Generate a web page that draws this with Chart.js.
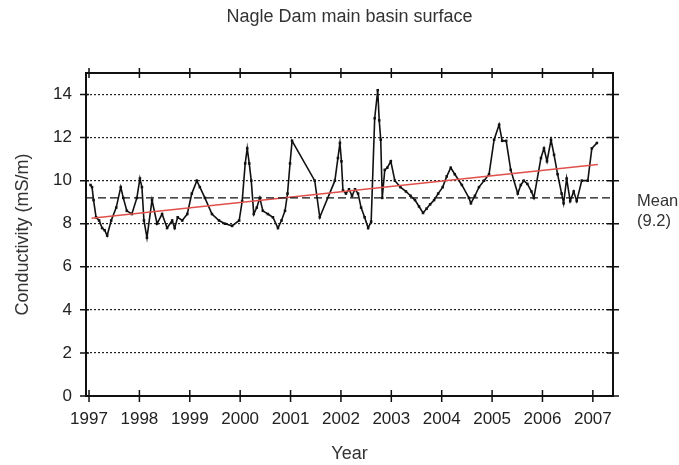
<!DOCTYPE html>
<html>
<head>
<meta charset="utf-8">
<script src="https://cdn.jsdelivr.net/npm/chart.js@4/dist/chart.umd.min.js"></script>
<style>
  html, body { margin: 0; padding: 0; background: #fff; }
</style>
</head>
<body>
<canvas id="chart" width="679" height="465"></canvas>
<script>
// conductivity (mS/m), by decimal year
const years = [
  1997.03, 1997.06, 1997.09, 1997.14, 1997.20, 1997.26, 1997.31, 1997.36, 1997.44, 1997.54,
  1997.63, 1997.68, 1997.75, 1997.85, 1997.95, 1998.01, 1998.05, 1998.09, 1998.15, 1998.25,
  1998.35, 1998.45, 1998.55, 1998.65, 1998.70, 1998.76, 1998.85, 1998.95, 1999.04, 1999.14,
  1999.20, 1999.30, 1999.44, 1999.58, 1999.70, 1999.84, 1999.98, 2000.04, 2000.10, 2000.14,
  2000.18, 2000.22, 2000.27, 2000.33, 2000.39, 2000.45, 2000.55, 2000.65, 2000.75, 2000.82,
  2000.89, 2000.94, 2000.99, 2001.03, 2001.48, 2001.58, 2001.88, 2001.94, 2001.98, 2002.01,
  2002.04, 2002.10, 2002.16, 2002.22, 2002.28, 2002.34, 2002.40, 2002.47, 2002.54, 2002.60,
  2002.67, 2002.73, 2002.76, 2002.79, 2002.82, 2002.87, 2002.92, 2002.99, 2003.07, 2003.18,
  2003.29, 2003.38, 2003.47, 2003.55, 2003.63, 2003.70, 2003.77, 2003.85, 2003.93, 2004.02,
  2004.10, 2004.18, 2004.26, 2004.40, 2004.54, 2004.58, 2004.66, 2004.74, 2004.84, 2004.94,
  2005.04, 2005.14, 2005.20, 2005.28, 2005.37, 2005.51, 2005.57, 2005.63, 2005.70, 2005.78,
  2005.83, 2005.97, 2006.03, 2006.09, 2006.17, 2006.23, 2006.30, 2006.38, 2006.42, 2006.48,
  2006.55, 2006.62, 2006.68, 2006.78, 2006.90, 2006.98, 2007.08
]
const conductivity = [
  9.8, 9.7, 9.1, 8.3, 8.15, 7.8, 7.7, 7.45, 8.15, 8.75,
  9.7, 9.2, 8.6, 8.45, 9.2, 10.1, 9.7, 8.15, 7.35, 9.1,
  8.0, 8.45, 7.8, 8.15, 7.8, 8.3, 8.15, 8.45, 9.4, 10.0,
  9.7, 9.2, 8.45, 8.15, 8.0, 7.9, 8.15, 9.05, 10.8, 11.5,
  10.8, 10.0, 8.45, 8.75, 9.2, 8.6, 8.45, 8.3, 7.8, 8.15,
  8.6, 9.4, 10.8, 11.85, 10.0, 8.3, 10.0, 11.05, 11.75, 10.9,
  9.55, 9.4, 9.6, 9.3, 9.6, 9.4, 8.75, 8.3, 7.8, 8.1,
  12.9, 14.2, 12.8, 11.9, 9.2, 10.5, 10.6, 10.9, 10.0, 9.7,
  9.5, 9.3, 9.1, 8.8, 8.5, 8.7, 8.9, 9.1, 9.4, 9.7,
  10.2, 10.6, 10.3, 9.8, 9.2, 8.95, 9.3, 9.7, 10.0, 10.3,
  11.9, 12.6, 11.85, 11.85, 10.5, 9.4, 9.8, 10.0, 9.85, 9.5,
  9.2, 11.05, 11.5, 10.9, 11.9, 11.2, 10.3, 9.4, 8.95, 10.1,
  9.05, 9.5, 9.05, 10.0, 10.0, 11.5, 11.75
]
const meanValue = 9.2
const trendYears = [1997.05, 2007.1]
const trendValues = [8.25, 10.75]
const yearTicks = [1997, 1998, 1999, 2000, 2001, 2002, 2003, 2004, 2005, 2006, 2007]
const valueTicks = [0, 2, 4, 6, 8, 10, 12, 14]
const xMin = 1996.94
const xMax = 2007.4

const font = '"Liberation Sans", Arial, sans-serif'

const framePlugin = {
  id: 'frame',
  afterDraw(chart) {
    const { ctx, chartArea: a, scales: { x, y } } = chart
    ctx.save()
    ctx.strokeStyle = '#111'
    ctx.lineWidth = 2
    ctx.strokeRect(a.left, a.top, a.right - a.left, a.bottom - a.top)
    ctx.lineWidth = 1.5
    ctx.beginPath()
    yearTicks.forEach((v) => {
      const px = x.getPixelForValue(v)
      ctx.moveTo(px, a.bottom - 6); ctx.lineTo(px, a.bottom + 6)
      ctx.moveTo(px, a.top - 5); ctx.lineTo(px, a.top + 5)
    })
    valueTicks.forEach((v) => {
      const py = y.getPixelForValue(v)
      ctx.moveTo(a.left - 6, py); ctx.lineTo(a.left + 3, py)
      ctx.moveTo(a.right - 6, py); ctx.lineTo(a.right + 6, py)
    })
    ctx.stroke()
    // mean label beside the plot
    const my = y.getPixelForValue(meanValue)
    ctx.fillStyle = '#333'
    ctx.font = '16.5px ' + font
    ctx.textBaseline = 'middle'
    ctx.fillText('Mean', a.right + 24, my + 4)
    ctx.fillText('(' + meanValue.toFixed(1) + ')', a.right + 24, my + 24)
    ctx.restore()
  }
}

new Chart(document.getElementById('chart'), {
  type: 'line',
  data: {
    datasets: [
      {
        label: 'mean',
        data: [{ x: xMin, y: meanValue }, { x: xMax, y: meanValue }],
        borderColor: '#111',
        borderWidth: 1.4,
        borderDash: [8, 4],
        pointRadius: 0
      },
      {
        label: 'trend',
        data: trendYears.map((v, i) => ({ x: v, y: trendValues[i] })),
        borderColor: '#e0504a',
        borderWidth: 1.5,
        pointRadius: 0
      },
      {
        label: 'conductivity',
        data: years.map((v, i) => ({ x: v, y: conductivity[i] })),
        borderColor: '#111',
        backgroundColor: '#111',
        borderWidth: 1.6,
        tension: 0,
        pointStyle: 'rect',
        pointRadius: 1.8,
        pointBorderWidth: 0
      }
    ]
  },
  options: {
    responsive: false,
    animation: false,
    layout: { padding: { top: 0, right: 66, bottom: 0, left: 0 } },
    plugins: {
      legend: { display: false },
      tooltip: { enabled: false },
      title: {
        display: true,
        fullSize: false,
        text: 'Nagle Dam main basin surface',
        color: '#333',
        font: { family: font, size: 18, weight: 'normal' },
        padding: { top: 6, bottom: 45.4 }
      }
    },
    scales: {
      x: {
        type: 'linear',
        min: xMin,
        max: xMax,
        afterBuildTicks: (scale) => { scale.ticks = yearTicks.map((v) => ({ value: v })) },
        afterFit: (scale) => { scale.height = 69 },
        grid: { display: false, drawTicks: false },
        border: { display: false },
        ticks: {
          autoSkip: false,
          maxRotation: 0,
          padding: 13,
          color: '#222',
          font: { family: font, size: 17 },
          callback: (v) => String(v)
        },
        title: {
          display: true,
          text: 'Year',
          color: '#333',
          font: { family: font, size: 18 },
          padding: { top: 0, bottom: 0 }
        }
      },
      y: {
        min: 0,
        max: 15,
        afterBuildTicks: (scale) => { scale.ticks = valueTicks.map((v) => ({ value: v })) },
        afterFit: (scale) => { scale.width = 86 },
        grid: { color: '#222', lineWidth: 1.2, drawTicks: false },
        border: { display: false, dash: [2, 2] },
        ticks: {
          padding: 14,
          color: '#222',
          font: { family: font, size: 17 }
        },
        title: {
          display: true,
          text: 'Conductivity (mS/m)',
          color: '#333',
          font: { family: font, size: 18 },
          padding: { top: 12, bottom: 12 }
        }
      }
    }
  },
  plugins: [framePlugin]
})
</script>
</body>
</html>
